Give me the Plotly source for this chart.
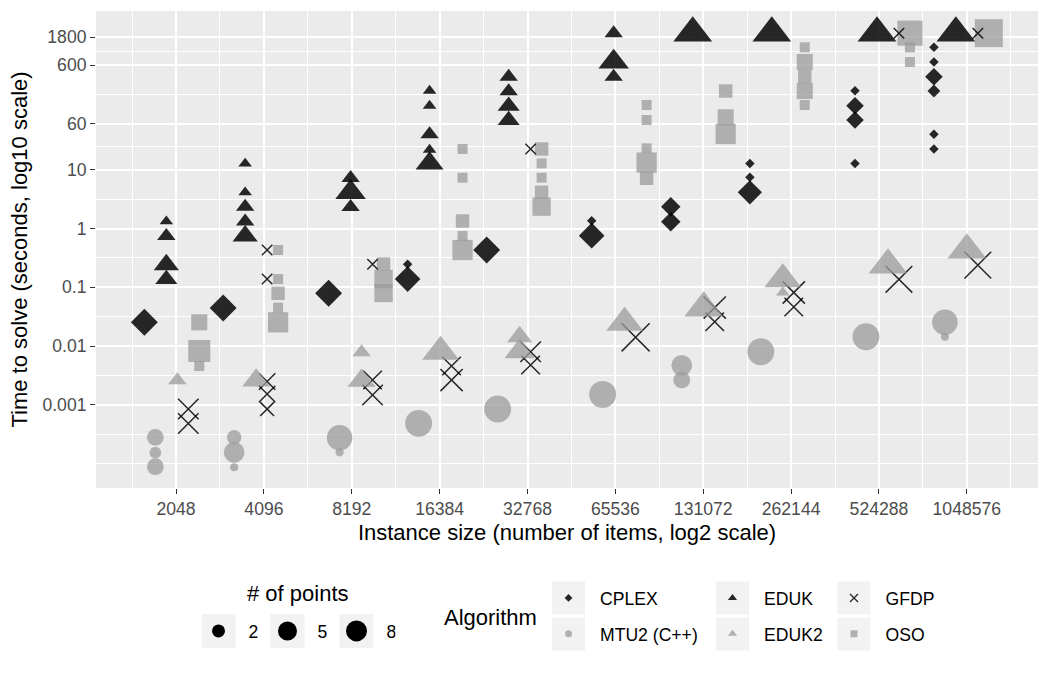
import numpy as np
import plotly.graph_objects as go

# ---------------- data ----------------
size_labels = ["2048", "4096", "8192", "16384", "32768", "65536",
               "131072", "262144", "524288", "1048576"]
size_exp = [11, 12, 13, 14, 15, 16, 17, 18, 19, 20]          # log2 of instance size (tick positions)
group_center = [10.952, 11.849, 13.049, 13.948, 14.848, 16.043,
                16.943, 17.843, 19.040, 19.938]               # dodge-group centres (log2)

algorithms = ["CPLEX", "MTU2 (C++)", "EDUK", "EDUK2", "GFDP", "OSO"]

# (instance size, time in seconds, number of points)
cplex = [(2048, 0.0254, 10), (4096, 0.0445, 10), (8192, 0.079, 10),
         (16384, 0.246, 1), (16384, 0.138, 9), (32768, 0.431, 10),
         (65536, 1.357, 1), (65536, 0.755, 9), (131072, 2.35, 5), (131072, 1.306, 5),
         (262144, 12.8, 1), (262144, 7.43, 1), (262144, 4.13, 8),
         (524288, 221, 1), (524288, 122.5, 4), (524288, 70, 4), (524288, 12.8, 1),
         (1048576, 1207, 1), (1048576, 679, 1), (1048576, 382, 4), (1048576, 218, 2),
         (1048576, 40, 1), (1048576, 22.5, 1)]
mtu2 = [(2048, 2.81e-4, 4), (2048, 1.54e-4, 2), (2048, 8.9e-5, 4),
        (4096, 2.81e-4, 3), (4096, 1.56e-4, 6), (4096, 8.7e-5, 1),
        (8192, 2.77e-4, 9), (8192, 1.56e-4, 1), (16384, 4.86e-4, 10),
        (32768, 8.5e-4, 10), (65536, 0.00151, 10), (131072, 0.00471, 6),
        (131072, 0.00265, 4), (262144, 0.00803, 10), (524288, 0.01445, 10),
        (1048576, 0.0254, 9), (1048576, 0.01445, 1)]
eduk = [(2048, 1.326, 1), (2048, 0.745, 2), (2048, 0.242, 4), (2048, 0.137, 3),
        (4096, 12.7, 1), (4096, 4.13, 1), (4096, 2.35, 2), (4096, 1.315, 2), (4096, 0.745, 4),
        (8192, 7.22, 2), (8192, 4.13, 6), (8192, 2.32, 2),
        (16384, 220, 1), (16384, 122.5, 1), (16384, 40, 2), (16384, 21.9, 1), (16384, 12.8, 5),
        (32768, 382, 2), (32768, 215, 2), (32768, 121, 3), (32768, 69.2, 3),
        (65536, 2100, 2), (65536, 679, 6), (65536, 382, 2),
        (131072, 2100, 10), (262144, 2100, 10), (524288, 2100, 10), (1048576, 2100, 10)]
eduk2 = [(2048, 0.00262, 2), (4096, 0.0026, 5), (8192, 0.0079, 2), (8192, 0.00258, 5),
         (16384, 0.00803, 9), (32768, 0.01445, 4), (32768, 0.00803, 6),
         (65536, 0.025, 9), (131072, 0.0445, 10), (262144, 0.137, 9), (262144, 0.0816, 1),
         (524288, 0.239, 10), (1048576, 0.431, 10)]
gfdp = [(2048, 8.5e-4, 5), (2048, 4.83e-4, 5),
        (4096, 0.431, 1), (4096, 0.138, 1), (4096, 0.0025, 3), (4096, 0.00153, 3), (4096, 8.5e-4, 2),
        (8192, 0.246, 1), (8192, 0.00265, 4), (8192, 0.00147, 5),
        (16384, 0.00459, 4), (16384, 0.00265, 6),
        (32768, 22.5, 1), (32768, 0.00803, 5), (32768, 0.00477, 4),
        (65536, 0.0141, 10), (131072, 0.0453, 6), (131072, 0.026, 4),
        (262144, 0.0816, 6), (262144, 0.0462, 4),
        (524288, 2100, 1), (524288, 0.137, 9), (1048576, 2100, 1), (1048576, 0.239, 9)]
oso = [(2048, 0.0254, 3), (2048, 0.00826, 6), (2048, 0.00459, 1),
       (4096, 0.431, 1), (4096, 0.138, 1), (4096, 0.079, 2), (4096, 0.045, 1), (4096, 0.0254, 5),
       (8192, 0.249, 2), (8192, 0.138, 4), (8192, 0.08, 4),
       (16384, 22.5, 1), (16384, 7.31, 1), (16384, 1.34, 2), (16384, 0.745, 1), (16384, 0.431, 5),
       (32768, 22.5, 2), (32768, 12.8, 1), (32768, 7.31, 1), (32768, 4.13, 2), (32768, 2.35, 4),
       (65536, 126, 1), (65536, 70, 1), (65536, 23.1, 1), (65536, 13.2, 5), (65536, 7.14, 2),
       (131072, 218, 2), (131072, 77.8, 3), (131072, 40.5, 5),
       (262144, 1207, 1), (262144, 679, 3), (262144, 382, 2), (262144, 218, 3), (262144, 126, 1),
       (524288, 2100, 8), (524288, 1207, 1), (524288, 679, 1), (1048576, 2100, 10)]

time_ticks = [0.001, 0.01, 0.1, 1, 10, 60, 600, 1800]
time_tick_labels = ["0.001", "0.01", "0.1", "1", "10", "60", "600", "1800"]
size_legend_counts = [2, 5, 8]

# ---------------- styles ----------------
DARK = "rgba(0,0,0,0.84)"
LIGHT = "rgba(155,155,155,0.75)"
FONT = "Liberation Sans, Arial, Helvetica, sans-serif"
styles = {
    "CPLEX":      dict(data=cplex, symbol="diamond",     color=DARK,  k=6.2,  b=1.1, leg=6),
    "MTU2 (C++)": dict(data=mtu2,  symbol="circle",      color=LIGHT, k=8.7,  b=-0.6, leg=7),
    "EDUK":       dict(data=eduk,  symbol="triangle-up", color=DARK,  k=10.1, b=1.7, leg=8),
    "EDUK2":      dict(data=eduk2, symbol="triangle-up", color=LIGHT, k=10.1, b=1.7, leg=8),
    "GFDP":       dict(data=gfdp,  symbol="x-thin",      color=DARK,  k=8.1,  b=2.4, leg=8),
    "OSO":        dict(data=oso,   symbol="square",      color=LIGHT, k=8.3,  b=1.7, leg=7),
}
draw_order = ["CPLEX", "MTU2 (C++)", "EDUK", "OSO", "GFDP", "EDUK2"]
DODGE = 0.75 / len(algorithms)

fig = go.Figure()

for name in draw_order:
    st = styles[name]
    i = algorithms.index(name)
    n_vals = [r[0] for r in st["data"]]
    t_vals = [r[1] for r in st["data"]]
    c_vals = np.array([r[2] for r in st["data"]], dtype=float)
    xs = [group_center[size_labels.index(str(n))] + (i - 2.5) * DODGE for n in n_vals]
    sizes = st["k"] * np.sqrt(c_vals) + st["b"]
    if st["symbol"] == "x-thin":
        marker = dict(symbol="x-thin", size=sizes, color=DARK, opacity=1,
                      line=dict(color=DARK, width=1.5))
    else:
        marker = dict(symbol=st["symbol"], size=sizes, color=st["color"], opacity=1,
                      line=dict(width=0))
    fig.add_trace(go.Scatter(x=xs, y=t_vals, mode="markers", marker=marker,
                             name=name, showlegend=False,
                             customdata=c_vals,
                             hovertemplate=name + "<br>%{y} s<br>n=%{customdata}<extra></extra>"))

# size legend (dummy traces)
for cnt, ms, lw in zip(size_legend_counts, [13, 16, 16], [0, 3, 5]):
    fig.add_trace(go.Scatter(x=[None], y=[None], mode="markers", name=str(cnt),
                             marker=dict(symbol="circle", size=ms, color="black", opacity=1,
                                         line=dict(color="black", width=lw)),
                             legend="legend", showlegend=True))

# algorithm legend: three columns
columns = [["CPLEX", "MTU2 (C++)"], ["EDUK", "EDUK2"], ["GFDP", "OSO"]]
for ci, col in enumerate(columns):
    for name in col:
        st = styles[name]
        if st["symbol"] == "x-thin":
            mk = dict(symbol="x-thin", size=st["leg"], color=DARK, opacity=1,
                      line=dict(color=DARK, width=1.3))
        else:
            mk = dict(symbol=st["symbol"], size=st["leg"], color=st["color"], opacity=1,
                      line=dict(width=0))
        fig.add_trace(go.Scatter(x=[None], y=[None], mode="markers", name=name, marker=mk,
                                 legend="legend%d" % (ci + 2), legendgroup=name,
                                 showlegend=True))

# ---------------- layout ----------------
W, H = 1050, 675
ML, MR, MT, MB = 96, 12, 11, 187
PW, PH = W - ML - MR, H - MT - MB


def px_x(px):
    return (px - ML) / PW


def px_y(py):
    return (H - MB - py) / PH


y_major_log = np.log10(time_ticks)
y_minor_log = [-4, -3.5, -2.5, -1.5, -0.5, 0.5,
               (y_major_log[4] + y_major_log[5]) / 2,
               (y_major_log[5] + y_major_log[6]) / 2,
               (y_major_log[6] + y_major_log[7]) / 2]

axis_common = dict(showgrid=True, gridcolor="white", gridwidth=2, zeroline=False,
                   showline=False, ticks="outside", ticklen=5, tickwidth=1,
                   tickcolor="#333333",
                   tickfont=dict(family=FONT, size=17.6, color="#4D4D4D"))

fig.update_layout(
    width=W, height=H,
    margin=dict(l=ML, r=MR, t=MT, b=MB, autoexpand=False),
    paper_bgcolor="white", plot_bgcolor="#EBEBEB",
    font=dict(family=FONT, color="black", size=17.6),
    xaxis=dict(range=[10.089, 20.81], tickmode="array", tickvals=size_exp,
               ticktext=size_labels, tickangle=0,
               minor=dict(tickmode="array", tickvals=[v + 0.5 for v in range(10, 21)],
                          showgrid=True, gridcolor="white", gridwidth=1, ticks=""),
               title=dict(text="Instance size (number of items, log2 scale)",
                          font=dict(family=FONT, size=22, color="black"), standoff=6),
               **axis_common),
    yaxis=dict(type="log", range=[-4.413, 3.699], tickmode="array", tickvals=time_ticks,
               ticktext=time_tick_labels,
               minor=dict(tickmode="array", tickvals=[10 ** v for v in y_minor_log],
                          showgrid=True, gridcolor="white", gridwidth=1, ticks=""),
               title=dict(text="Time to solve (seconds, log10 scale)",
                          font=dict(family=FONT, size=22, color="black"), standoff=8),
               **axis_common),
    legend=dict(xref="container", yref="container", x=188.5 / W, y=1 - 613 / H,
                xanchor="left", yanchor="top", orientation="h", itemwidth=50,
                entrywidth=4, itemsizing="trace", bgcolor="rgba(0,0,0,0)",
                font=dict(family=FONT, size=17.6, color="black")),
)
leg_lefts = [537, 701, 822.5]
for ci, left in enumerate(leg_lefts):
    fig.update_layout(**{"legend%d" % (ci + 2): dict(
        xref="container", yref="container", x=left / W, y=1 - 580 / H,
        xanchor="left", yanchor="top", orientation="v", itemwidth=53,
        tracegroupgap=10, itemsizing="trace", bgcolor="rgba(0,0,0,0)",
        font=dict(family=FONT, size=17.6, color="black"))})

# grey key backgrounds (ggplot legend.key)
key_boxes = [(218.5, 631, 34), (287.5, 631, 34), (356.5, 631, 34)]
for cx in [568.5, 732.5, 854]:
    for cy in [598, 634]:
        key_boxes.append((cx, cy, 33))
for cx, cy, s in key_boxes:
    fig.add_shape(type="rect", xref="paper", yref="paper",
                  x0=px_x(cx - s / 2), x1=px_x(cx + s / 2),
                  y0=px_y(cy + s / 2), y1=px_y(cy - s / 2),
                  fillcolor="#F2F2F2", line=dict(width=0), layer="below")

fig.add_annotation(text="# of points", xref="paper", yref="paper",
                   x=px_x(297.5), y=px_y(593), xanchor="center", yanchor="middle",
                   showarrow=False, font=dict(family=FONT, size=22, color="black"))
fig.add_annotation(text="Algorithm", xref="paper", yref="paper",
                   x=px_x(490.5), y=px_y(617), xanchor="center", yanchor="middle",
                   showarrow=False, font=dict(family=FONT, size=22, color="black"))

fig.write_html("out.html")
